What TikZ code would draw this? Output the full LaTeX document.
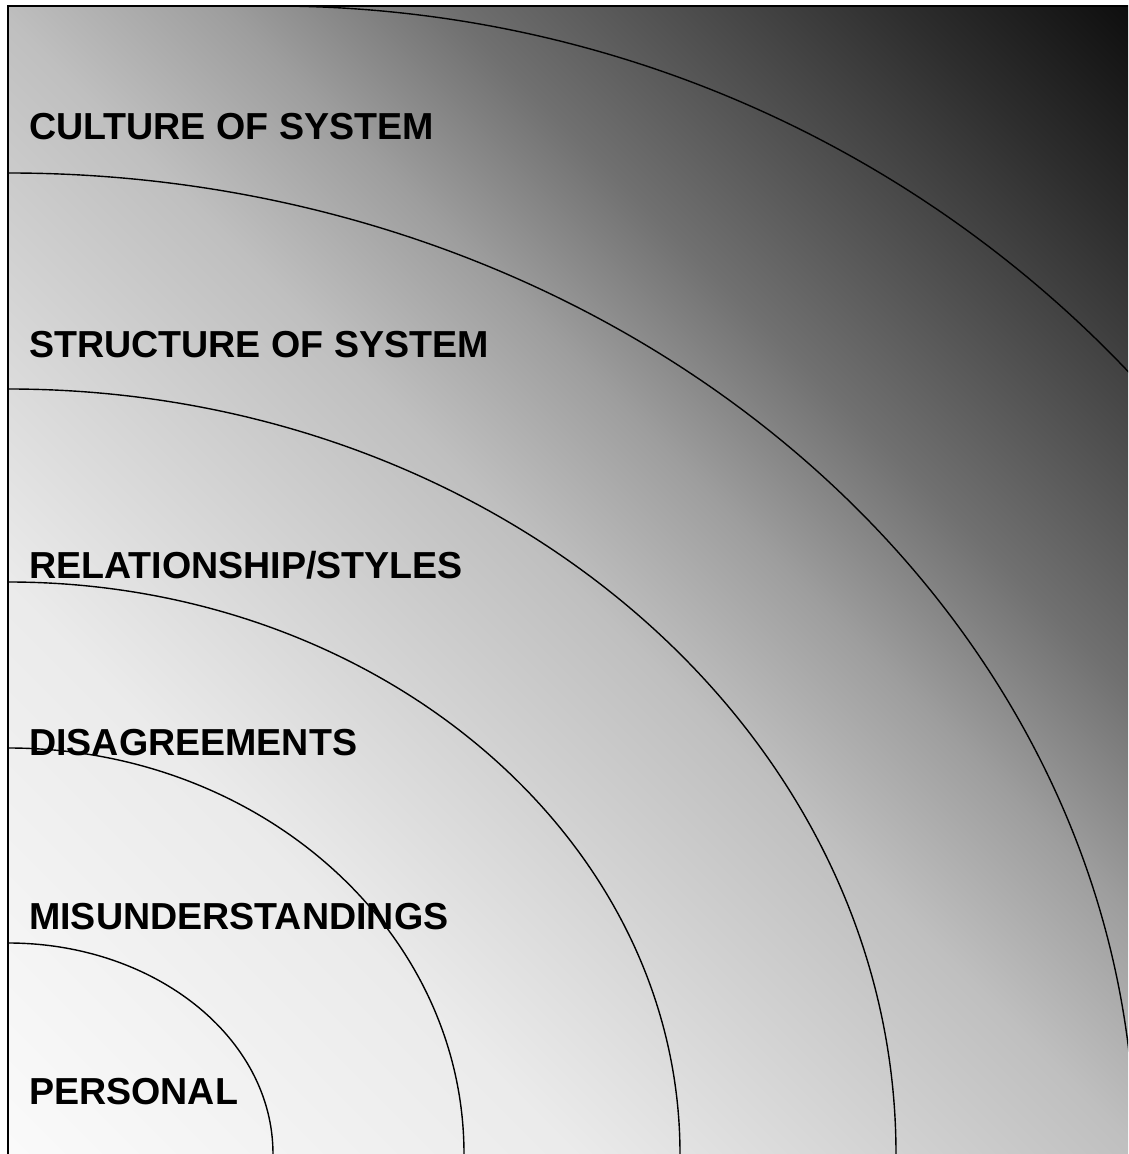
\documentclass[tikz,border=0pt]{standalone}
\usepackage{fontspec}
\setmainfont{Liberation Sans}
\definecolor{s0}{gray}{0.98}
\definecolor{s1}{gray}{0.92}
\definecolor{s2}{gray}{0.75}
\definecolor{s3}{gray}{0.62}
\definecolor{s4}{gray}{0.44}
\definecolor{s5}{gray}{0.31}
\definecolor{s6}{gray}{0.18}
\definecolor{s7}{gray}{0.06}
\pgfdeclareverticalshading{bgdiag}{100bp}{color(0bp)=(s0); color(14.64bp)=(s0); color(32.32bp)=(s1); color(50bp)=(s2); color(57.07bp)=(s3); color(64.14bp)=(s4); color(71.21bp)=(s5); color(78.28bp)=(s6); color(85.36bp)=(s7); color(100bp)=(s7)}
\begin{document}
\begin{tikzpicture}[x=1pt,y=1pt,
  lbl/.style={anchor=base west, inner sep=0pt, font=\fontsize{37.6}{44}\selectfont\bfseries},
  ring/.style={draw=black, line width=1.4pt},
  frameline/.style={draw=black, line width=1.7pt}]
\useasboundingbox (0,0) rectangle (1128,1154);
\fill[white] (0,0) rectangle (1128,1154);
\shade[shading=bgdiag, shading angle=-45] (8,0) rectangle (1128,1148);
\begin{scope}
  \clip (8,0) rectangle (1128,1148);
  \draw[ring] (8,211) arc[start angle=90, end angle=0, x radius=265, y radius=211];
  \draw[ring] (8,406) arc[start angle=90, end angle=0, x radius=456, y radius=406];
  \draw[ring] (8,572) arc[start angle=90, end angle=0, x radius=672, y radius=572];
  \draw[ring] (8,765) arc[start angle=90, end angle=0, x radius=888, y radius=765];
  \draw[ring] (8,981) arc[start angle=90, end angle=0, x radius=1127, y radius=981];
  \draw[ring] (272,1148) arc[start angle=90, end angle=0, x radius=1170, y radius=1148];
\end{scope}
\draw[frameline] (1128,1148) -- (8,1148) -- (8,0);
\node[lbl] (culture) at (29,1014) {CULTURE OF SYSTEM};
\node[lbl] (structure) at (29,796) {STRUCTURE OF SYSTEM};
\node[lbl] (relation) at (29,575) {RELATIONSHIP/STYLES};
\node[lbl] (disagree) at (29,398) {DISAGREEMENTS};
\node[lbl] (misunder) at (29,224) {MISUNDERSTANDINGS};
\node[lbl] (personal) at (29,49) {PERSONAL};
\end{tikzpicture}
\end{document}
